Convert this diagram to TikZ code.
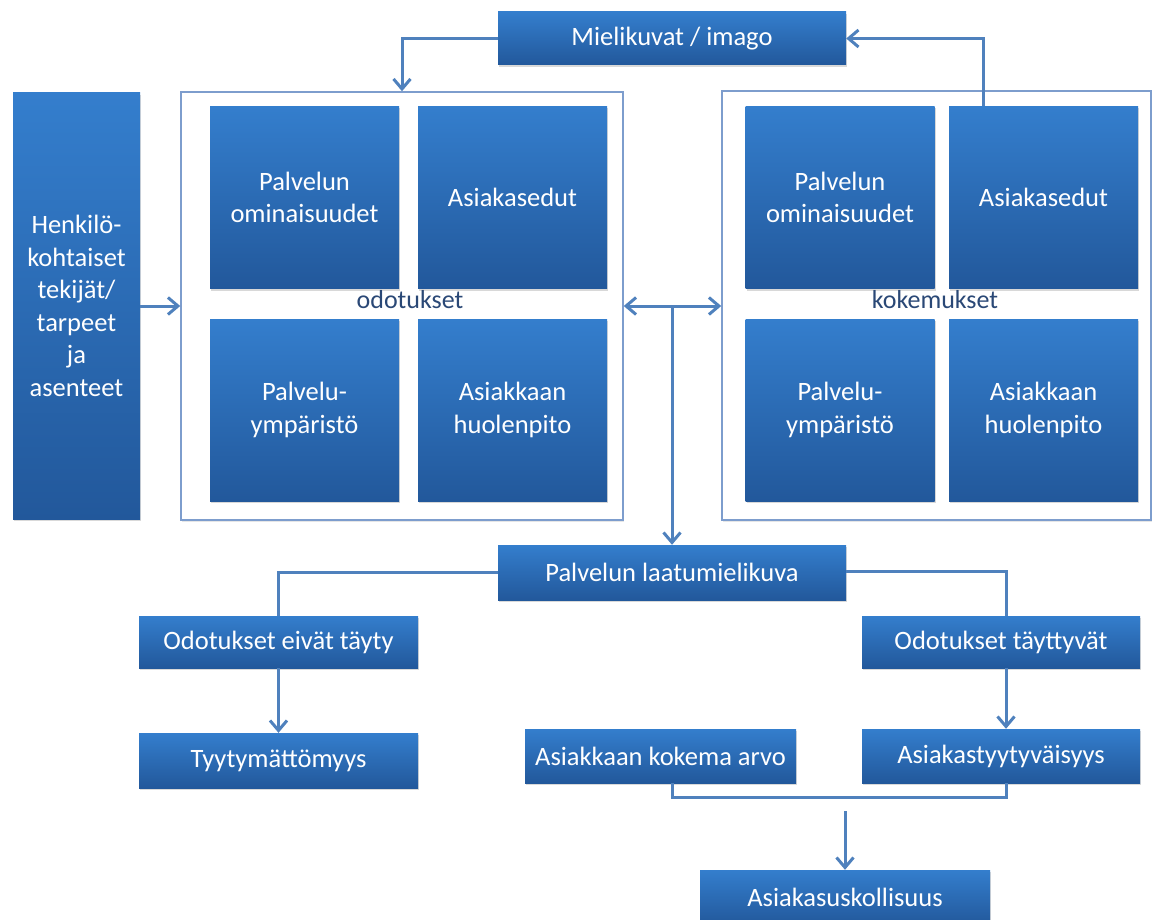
\documentclass[tikz,border=0pt]{standalone}
\usepackage{fontspec}
\setmainfont{Carlito}
\usetikzlibrary{arrows.meta,shadows}
\definecolor{laatikko1}{RGB}{52,126,205}
\definecolor{laatikko2}{RGB}{34,88,155}
\definecolor{viiva}{RGB}{79,129,189}
\definecolor{kehysvari}{RGB}{125,157,205}
\definecolor{otsikko}{RGB}{42,72,118}
\tikzset{
  laatikko/.style={top color=laatikko1, bottom color=laatikko2, text=white,
    align=center, inner sep=0pt, font=\fontsize{26.5}{32.5}\selectfont,
    drop shadow={shadow xshift=1pt, shadow yshift=-2pt, opacity=0.3}},
  kehys/.style={draw=kehysvari, line width=1.5pt, fill=white, inner sep=0pt,
    drop shadow={shadow xshift=1pt, shadow yshift=-2pt, opacity=0.2}},
  ryhma/.style={text=otsikko, font=\fontsize{26}{30}\selectfont},
  yhteys/.style={draw=viiva, line width=3pt},
  nuoli/.style={yhteys, -{Straight Barb[length=10pt,width=17pt]}},
}

\begin{document}
\begin{tikzpicture}[x=1pt,y=-1pt]
   \useasboundingbox (0,0) rectangle (1154,920);
   % kehykset
   \node[kehys, minimum width=442pt, minimum height=428pt] (odot) at (402,306) {};
   \node[kehys, minimum width=429pt, minimum height=429pt] (kokem) at (936.5,305.5) {};
   % odotukset
   \node[laatikko, minimum width=189pt, minimum height=182pt] (o1) at (304.5,197.5) {Palvelun\\ominaisuudet};
   \node[laatikko, minimum width=189pt, minimum height=182pt] (o2) at (512.5,197.5) {Asiakasedut};
   \node[laatikko, minimum width=189pt, minimum height=182pt] (o3) at (304.5,410) {Palvelu-\\ympäristö};
   \node[laatikko, minimum width=189pt, minimum height=182pt] (o4) at (512.5,410) {Asiakkaan\\huolenpito};
   \node[ryhma] (odotxt) at (410,300) {odotukset};
   % kokemukset
   \node[laatikko, minimum width=189pt, minimum height=182pt] (k1) at (840,197.5) {Palvelun\\ominaisuudet};
   \node[laatikko, minimum width=189pt, minimum height=182pt] (k2) at (1043.5,197.5) {Asiakasedut};
   \node[laatikko, minimum width=189pt, minimum height=182pt] (k3) at (840,410) {Palvelu-\\ympäristö};
   \node[laatikko, minimum width=189pt, minimum height=182pt] (k4) at (1043.5,410) {Asiakkaan\\huolenpito};
   \node[ryhma] (koktxt) at (935,300) {kokemukset};
   % muut laatikot
   \node[laatikko, minimum width=348pt, minimum height=53pt] (mieli) at (672,38.5) {Mielikuvat / imago};
   \node[laatikko, minimum width=127pt, minimum height=426pt] (henk) at (76.5,306) {Henkilö-\\kohtaiset\\tekijät/\\tarpeet\\ja\\asenteet};
   \node[laatikko, minimum width=348pt, minimum height=55pt] (laatu) at (672,572.5) {Palvelun laatumielikuva};
   \node[laatikko, minimum width=279pt, minimum height=52pt] (eivat) at (278.5,642) {Odotukset eivät täyty};
   \node[laatikko, minimum width=278pt, minimum height=52pt] (tayt) at (1001,642) {Odotukset täyttyvät};
   \node[laatikko, minimum width=279pt, minimum height=55pt] (tyyty) at (278.5,760.5) {Tyytymättömyys};
   \node[laatikko, minimum width=271pt, minimum height=54pt] (arvo) at (660.5,756) {Asiakkaan kokema arvo};
   \node[laatikko, minimum width=278pt, minimum height=54pt] (asty) at (1001,756) {Asiakastyytyväisyys};
   \node[laatikko, minimum width=290pt, minimum height=55pt] (usk) at (845,897.5) {Asiakasuskollisuus};
   % yhteydet
   \coordinate (haara) at (672,306);
   \coordinate (liitos) at (845,811);
   \draw[nuoli] (mieli.west) -| (odot.north);
   \draw[nuoli] ([xshift=-60pt]k2.north) |- (mieli.east);
   \draw[nuoli] (henk.east |- odot.west) -- (odot.west);
   \draw[yhteys, {Straight Barb[length=10pt,width=17pt]}-{Straight Barb[length=10pt,width=17pt]}] (odot.east) -- (kokem.west |- odot.east);
   \draw[nuoli] (haara) -- (laatu.north);
   \draw[yhteys] (laatu.west) -| (eivat.north);
   \draw[yhteys] ([yshift=1pt]laatu.east) -| ([xshift=5pt]tayt.north);
   \draw[nuoli] (eivat.south) -- (tyyty.north);
   \draw[nuoli] ([xshift=5pt]tayt.south) -- ([xshift=5pt]asty.north);
   \draw[yhteys] ([xshift=12pt]arvo.south) -- ++(0,14) -| ([xshift=5pt]asty.south);
   \draw[nuoli] (liitos) -- (usk.north);
\end{tikzpicture}
\end{document}
